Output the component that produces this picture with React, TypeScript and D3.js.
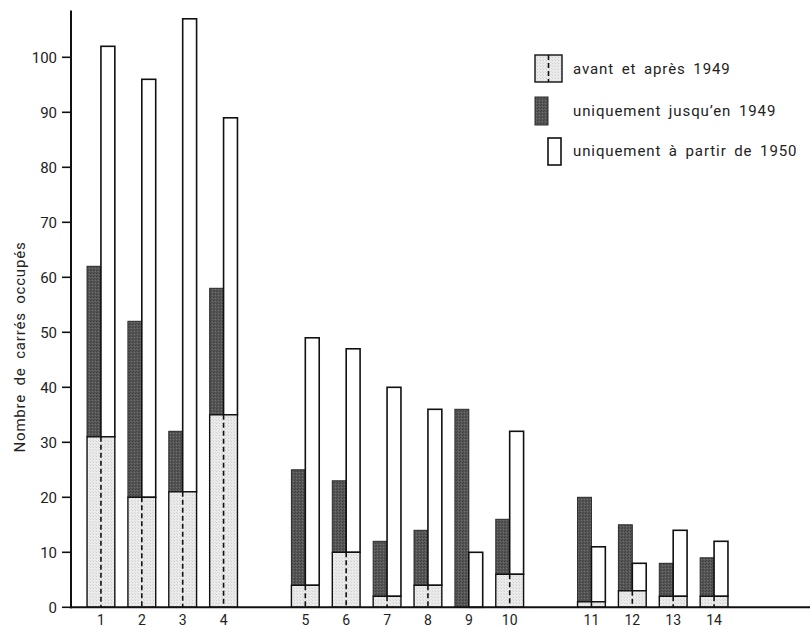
import React from 'react';
import * as d3 from 'd3';

// stations, in three groups on the x axis
const categories = ['1', '2', '3', '4', '5', '6', '7', '8', '9', '10', '11', '12', '13', '14'];
// slots along the axis, with an empty slot between the groups
const slots = ['1', '2', '3', '4', 'gapA', '5', '6', '7', '8', '9', '10', 'gapB', '11', '12', '13', '14'];

const avantApres = [31, 20, 21, 35, 4, 10, 2, 4, 0, 6, 1, 3, 2, 2];
const jusqu1949 = [31, 32, 11, 23, 21, 13, 10, 10, 36, 10, 19, 12, 6, 7];
const depuis1950 = [71, 76, 86, 54, 45, 37, 38, 32, 10, 26, 10, 5, 12, 10];

const yTicks = [0, 10, 20, 30, 40, 50, 60, 70, 80, 90, 100];

const legendLabels = ['avant et après 1949', 'uniquement jusqu\u2019en 1949', 'uniquement à partir de 1950'];

const font = 'Roboto, "DejaVu Sans", sans-serif';

const App = () => {
  const width = 810;
  const height = 629;

  const x = d3
    .scaleBand()
    .domain(slots)
    .range([80.5, 734.5])
    .paddingInner(0.32)
    .paddingOuter(0.16);

  const y = d3.scaleLinear().domain([0, 100]).range([607.3, 57.3]);

  const bw = x.bandwidth() / 2;

  return (
    <svg width={width} height={height} style={{ position: 'absolute', left: 0, top: 0, background: '#fff' }}>
      <defs>
        <pattern id="dark" width="3" height="3" patternUnits="userSpaceOnUse">
          <rect width="3" height="3" fill="#565656" />
          <rect x="0" y="0" width="1" height="1" fill="#3e3e3e" />
          <rect x="2" y="1" width="1" height="1" fill="#707070" />
          <rect x="1" y="2" width="1" height="1" fill="#444" />
        </pattern>
        <pattern id="light" width="3" height="3" patternUnits="userSpaceOnUse">
          <rect width="3" height="3" fill="#ebebeb" />
          <rect x="0" y="0" width="1" height="1" fill="#cfcfcf" />
          <rect x="2" y="2" width="1" height="1" fill="#d8d8d8" />
        </pattern>
      </defs>

      {categories.map((c, i) => {
        const x0 = x(c) as number;
        const xm = x0 + bw;
        const base = y(0);
        const yBoth = y(avantApres[i]);
        const yDark = y(avantApres[i] + jusqu1949[i]);
        const yWhite = y(avantApres[i] + depuis1950[i]);
        return (
          <g key={c}>
            {/* uniquement jusqu'en 1949 */}
            <rect x={x0} y={yDark} width={bw} height={yBoth - yDark} fill="url(#dark)" stroke="#2a2a2a" strokeWidth={1} />
            {/* uniquement a partir de 1950 */}
            <rect x={xm} y={yWhite} width={bw} height={yBoth - yWhite} fill="#fff" stroke="#111" strokeWidth={1.6} />
            {/* avant et apres 1949 */}
            {avantApres[i] > 0 && (
              <g>
                <rect x={x0} y={yBoth} width={bw * 2} height={base - yBoth} fill="url(#light)" stroke="#111" strokeWidth={1.4} />
                <line x1={xm} x2={xm} y1={yBoth} y2={base} stroke="#111" strokeWidth={1.6} strokeDasharray="5,3" />
              </g>
            )}
            <text x={xm} y={625} textAnchor="middle" fontFamily={font} fontSize={14} fill="#222">
              {c}
            </text>
          </g>
        );
      })}

      {/* axes */}
      <line x1={71} x2={71} y1={y(108.5)} y2={y(0) + 1} stroke="#111" strokeWidth={2} />
      <line x1={70} x2={810} y1={y(0)} y2={y(0)} stroke="#111" strokeWidth={2} />
      {yTicks.map((t) => (
        <g key={t}>
          <line x1={62} x2={71} y1={y(t)} y2={y(t)} stroke="#111" strokeWidth={1.6} />
          <text x={57} y={y(t)} dy="0.36em" textAnchor="end" fontFamily={font} fontSize={15} fill="#222">
            {t}
          </text>
        </g>
      ))}

      <text
        transform="translate(25,347) rotate(-90)"
        textAnchor="middle"
        fontFamily={font}
        fontSize={15}
        letterSpacing={0.8}
        wordSpacing={4}
        fill="#222"
      >
        Nombre de carrés occupés
      </text>

      {/* legend */}
      <g>
        <rect x={535} y={55} width={27} height={27} fill="url(#light)" stroke="#111" strokeWidth={1.4} />
        <line x1={548.5} x2={548.5} y1={55} y2={82} stroke="#111" strokeWidth={1.6} strokeDasharray="5,3" />
        <rect x={535} y={97} width={13} height={28} fill="url(#dark)" stroke="#2a2a2a" strokeWidth={1} />
        <rect x={548} y={138} width={13} height={27} fill="#fff" stroke="#111" strokeWidth={1.6} />
        {legendLabels.map((l, i) => (
          <text
            key={l}
            x={573}
            y={[69, 111, 151][i]}
            dy="0.36em"
            fontFamily={font}
            fontSize={15}
            letterSpacing={0.9}
            wordSpacing={3}
            fill="#222"
          >
            {l}
          </text>
        ))}
      </g>
    </svg>
  );
};

export default App;
